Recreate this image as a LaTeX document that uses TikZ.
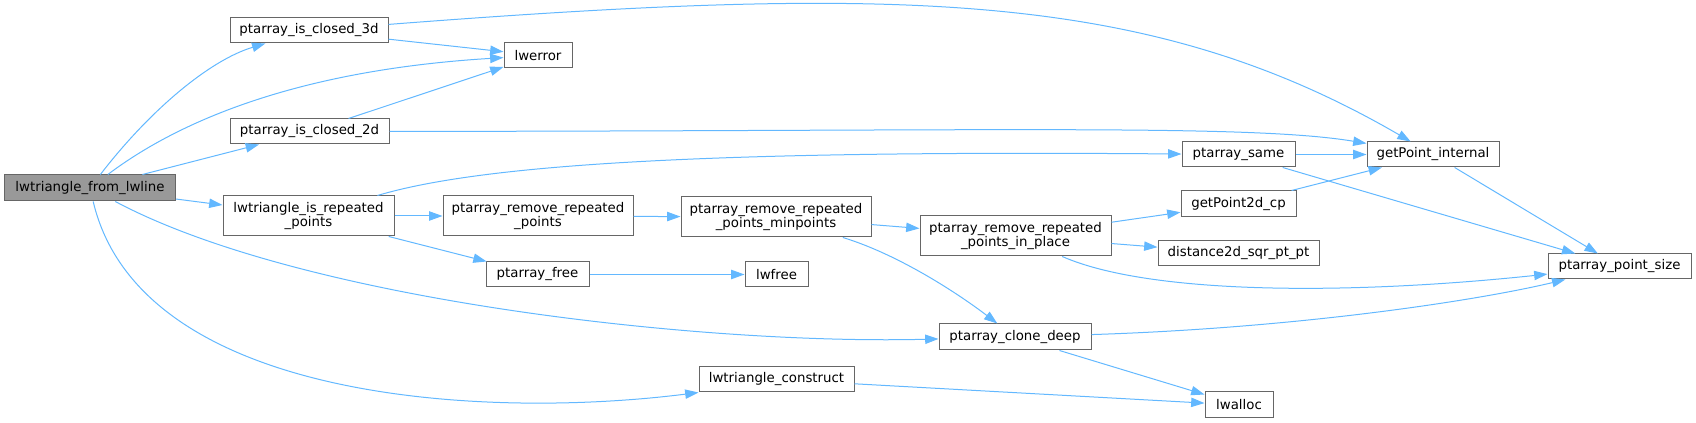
\documentclass[tikz,border=0pt]{standalone}
\usepackage{fontspec}
\setmainfont{DejaVu Sans}
\usetikzlibrary{arrows.meta,calc}
\definecolor{edgeblue}{HTML}{63B8FF}
\definecolor{boxborder}{HTML}{666666}
\definecolor{boxgray}{HTML}{999999}
\begin{document}
\begin{tikzpicture}[x=0.75pt,y=-0.75pt,
  fn/.style={draw=boxborder, line width=0.75pt, fill=white, inner sep=0pt, align=center,
    font=\fontsize{10}{10.7}\selectfont, minimum height=25*0.75pt},
  fnw/.style={minimum width=#1*0.75pt},
  twoline/.style={minimum height=40*0.75pt},
  focus/.style={fill=boxgray},
  call/.style={draw=edgeblue, line width=0.75pt, -{Triangle[length=10pt,width=7pt]}}]
\useasboundingbox (0,0) rectangle (1696,423);

% nodes
\node[fn,focus,fnw=171,minimum height=26*0.75pt] (from) at (90,188) {lwtriangle\_from\_lwline};
\node[fn,fnw=158] (closed3d) at (309,30.5) {ptarray\_is\_closed\_3d};
\node[fn,fnw=68] (lwerror) at (538,55.5) {lwerror};
\node[fn,fnw=159] (closed2d) at (309.5,131.5) {ptarray\_is\_closed\_2d};
\node[fn,twoline,fnw=171] (isrep) at (308.5,216) {lwtriangle\_is\_repeated\\\_points};
\node[fn,twoline,fnw=190] (remrep) at (538,216) {ptarray\_remove\_repeated\\\_points};
\node[fn,twoline,fnw=190] (minpts) at (776,217) {ptarray\_remove\_repeated\\\_points\_minpoints};
\node[fn,twoline,fnw=191] (inplace) at (1015.5,236) {ptarray\_remove\_repeated\\\_points\_in\_place};
\node[fn,fnw=103] (pfree) at (537.5,274.5) {ptarray\_free};
\node[fn,fnw=63] (lwfree) at (776.5,274.5) {lwfree};
\node[fn,fnw=152,minimum height=26*0.75pt] (clone) at (1015,337) {ptarray\_clone\_deep};
\node[fn,fnw=155] (construct) at (776.5,379.5) {lwtriangle\_construct};
\node[fn,fnw=113] (same) at (1238.5,154.5) {ptarray\_same};
\node[fn,fnw=132] (gpi) at (1433,154.5) {getPoint\_internal};
\node[fn,fnw=115,minimum height=26*0.75pt] (gp2d) at (1238.5,204) {getPoint2d\_cp};
\node[fn,fnw=161] (dist) at (1238.5,253.5) {distance2d\_sqr\_pt\_pt};
\node[fn,fnw=143] (psize) at (1619.5,266.5) {ptarray\_point\_size};
\node[fn,fnw=68,minimum height=26*0.75pt] (lwalloc) at (1239,405) {lwalloc};

% edges from lwtriangle_from_lwline
\draw[call] (from) .. controls (150,110) and (210,60) .. (closed3d);
\draw[call] (from) .. controls (180,120) and (300,70) .. (lwerror);
\draw[call] (from) -- (closed2d);
\draw[call] (from) -- (isrep);
\draw[call] (from) .. controls (300,300) and (700,345) .. (clone);
\draw[call] (from) .. controls (140,400) and (480,420) .. (construct.south west);

% ptarray_is_closed_3d / 2d
\draw[call] (closed3d) -- (lwerror);
\draw[call] (closed3d) .. controls (900,-15) and (1150,-10) .. (gpi);
\draw[call] (closed2d) -- (lwerror);
\draw[call] (closed2d) .. controls (1000,131) and (1250,124) .. (gpi);

% lwtriangle_is_repeated_points
\draw[call] (isrep) .. controls (480,165) and (700,150) .. (same);
\draw[call] (isrep) -- (remrep);
\draw[call] (isrep) -- (pfree);

\draw[call] (remrep) -- (minpts);
\draw[call] (pfree) -- (lwfree);
\draw[call] (minpts) -- (inplace);
\draw[call] (minpts) .. controls (900,255) and (960,295) .. (clone);

\draw[call] (inplace) -- (gp2d);
\draw[call] (inplace) -- (dist);
\draw[call] (inplace) .. controls (1150,295) and (1350,295) .. (psize);

\draw[call] (clone) .. controls (1300,328) and (1480,300) .. (psize);
\draw[call] (clone) -- (lwalloc);
\draw[call] (construct) -- (lwalloc);

\draw[call] (same) -- (gpi);
\draw[call] (same) -- (psize);
\draw[call] (gp2d) -- (gpi);
\draw[call] (gpi) -- (psize);
\end{tikzpicture}
\end{document}
